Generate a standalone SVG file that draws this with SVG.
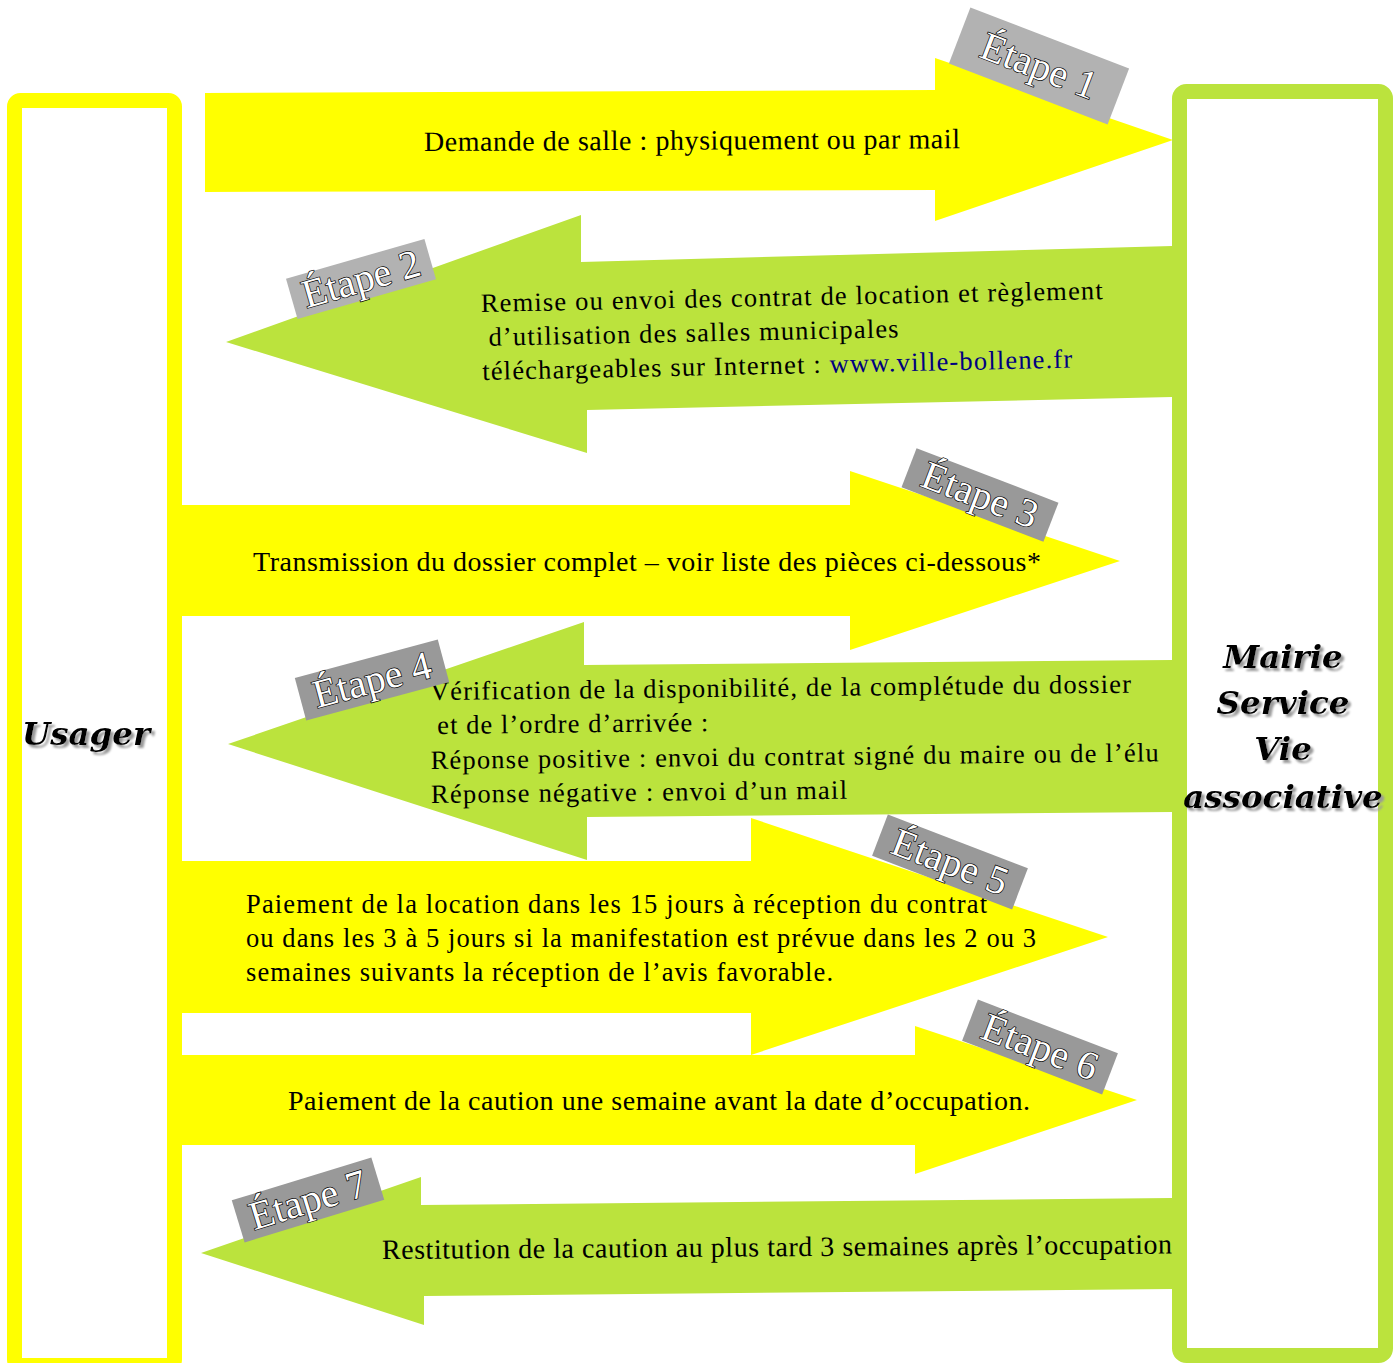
<svg xmlns="http://www.w3.org/2000/svg" width="1398" height="1363" viewBox="0 0 1398 1363">
<style>
.y{fill:#ffff00}
.g{fill:#bbe33d}
.t{font-family:"Liberation Serif","Times New Roman",serif;font-size:28px;fill:#000}
.s{font-size:26.5px}
.lab{font-family:"Liberation Serif","Times New Roman",serif;font-size:40px;fill:#fff;stroke:#000;stroke-width:1.4;paint-order:stroke;text-anchor:middle}
.big{font-family:"DejaVu Serif",serif;font-weight:bold;font-style:italic;font-size:32.5px;text-anchor:middle;filter:url(#sh)}
</style>
<defs>
<filter id="sh" x="-10%" y="-30%" width="130%" height="160%">
<feDropShadow dx="3" dy="3" stdDeviation="0.8" flood-color="#9a9a9a" flood-opacity="1"/>
</filter>
</defs>
<rect width="1398" height="1363" fill="#fff"/>
<g id="connectors">
<g id="arrow1">
<polygon class="y" points="205,93 935,90 935,58 1173,140 935,221 935,190 205,192"/>
<text class="t" x="424" y="151" textLength="536" lengthAdjust="spacing" transform="rotate(-0.3 424 151)">Demande de salle : physiquement ou par mail</text>
</g>
<g id="arrow2">
<polygon class="g" points="1172,246 581,262 581,215 226,342 587,453 587,410 1172,397"/>
<g transform="rotate(-1.2 481 312)">
<text class="t s" x="481" y="312" textLength="622" lengthAdjust="spacing">Remise ou envoi des contrat de location et règlement</text>
<text class="t s" x="488" y="346" textLength="410" lengthAdjust="spacing">d’utilisation des salles municipales</text>
<text class="t s" x="481" y="380" textLength="590" lengthAdjust="spacing">téléchargeables sur Internet : <tspan fill="#000080">www.ville-bollene.fr</tspan></text>
</g>
</g>
<g id="arrow3">
<polygon class="y" points="182,505 850,505 850,471 1120,561 850,650 850,616 182,616"/>
<text class="t" x="253" y="571" textLength="788" lengthAdjust="spacing">Transmission du dossier complet – voir liste des pièces ci-dessous*</text>
</g>
<g id="arrow4">
<polygon class="g" points="1172,660 584,665 584,622 228,744 587,860 587,817 1172,812"/>
<g transform="rotate(-0.6 430 700)">
<text class="t s" x="430" y="700" textLength="701" lengthAdjust="spacing">Vérification de la disponibilité, de la complétude du dossier</text>
<text class="t s" x="437" y="734" textLength="271" lengthAdjust="spacing">et de l’ordre d’arrivée :</text>
<text class="t s" x="430" y="769" textLength="728" lengthAdjust="spacing">Réponse positive : envoi du contrat signé du maire ou de l’élu</text>
<text class="t s" x="430" y="803" textLength="416" lengthAdjust="spacing">Réponse négative : envoi d’un mail</text>
</g>
</g>
<g id="arrow5">
<polygon class="y" points="182,861 751,861 751,818 1108,937 751,1055 751,1013 182,1013"/>
<text class="t s" x="246" y="913" textLength="741" lengthAdjust="spacing">Paiement de la location dans les 15 jours à réception du contrat</text>
<text class="t s" x="246" y="947" textLength="790" lengthAdjust="spacing">ou dans les 3 à 5 jours si la manifestation est prévue dans les 2 ou 3</text>
<text class="t s" x="246" y="981" textLength="587" lengthAdjust="spacing">semaines suivants la réception de l’avis favorable.</text>
</g>
<g id="arrow6">
<polygon class="y" points="182,1055 915,1055 915,1026 1137,1100 915,1174 915,1145 182,1145"/>
<text class="t" x="288" y="1110" textLength="742" lengthAdjust="spacing">Paiement de la caution une semaine avant la date d’occupation.</text>
</g>
<g id="arrow7">
<polygon class="g" points="1172,1198 421,1205 421,1177 201,1253 424,1325 424,1296 1172,1289"/>
<text class="t" x="382" y="1259" textLength="790" lengthAdjust="spacing" transform="rotate(-0.4 382 1259)">Restitution de la caution au plus tard 3 semaines après l’occupation</text>
</g>
</g>
<g id="usager">
<rect x="14.5" y="100.5" width="160" height="1265" rx="6" fill="none" stroke="#ffff00" stroke-width="15"/>
<text class="big" x="86" y="745">Usager</text>
</g>
<g id="mairie">
<rect x="1179.5" y="91.5" width="206" height="1264" rx="7" fill="none" stroke="#bbe33d" stroke-width="15"/>
<text class="big" x="1283" y="668">Mairie</text>
<text class="big" x="1283" y="714">Service</text>
<text class="big" x="1283" y="760">Vie</text>
<text class="big" x="1283" y="808">associative</text>
</g>
<g id="etape1" transform="translate(1039 66) rotate(21)">
<rect x="-85" y="-30" width="170" height="60" fill="#b2b2b2"/>
<text class="lab" x="0" y="13">Étape 1</text>
</g>
<g id="etape2" transform="translate(361 279) rotate(-16)">
<rect x="-72" y="-21" width="144" height="42" fill="#b2b2b2"/>
<text class="lab" x="0" y="13">Étape 2</text>
</g>
<g id="etape3" transform="translate(980 495) rotate(21)">
<rect x="-76" y="-21" width="152" height="42" fill="#999999"/>
<text class="lab" x="0" y="13">Étape 3</text>
</g>
<g id="etape4" transform="translate(372 680) rotate(-15)">
<rect x="-74" y="-22" width="148" height="44" fill="#999999"/>
<text class="lab" x="0" y="13">Étape 4</text>
</g>
<g id="etape5" transform="translate(950 862) rotate(21)">
<rect x="-75" y="-22" width="150" height="44" fill="#999999"/>
<text class="lab" x="0" y="13">Étape 5</text>
</g>
<g id="etape6" transform="translate(1040 1047) rotate(21)">
<rect x="-75" y="-22" width="150" height="44" fill="#999999"/>
<text class="lab" x="0" y="13">Étape 6</text>
</g>
<g id="etape7" transform="translate(308 1200) rotate(-17)">
<rect x="-73" y="-22" width="146" height="44" fill="#999999"/>
<text class="lab" x="0" y="13">Étape 7</text>
</g>
</svg>
